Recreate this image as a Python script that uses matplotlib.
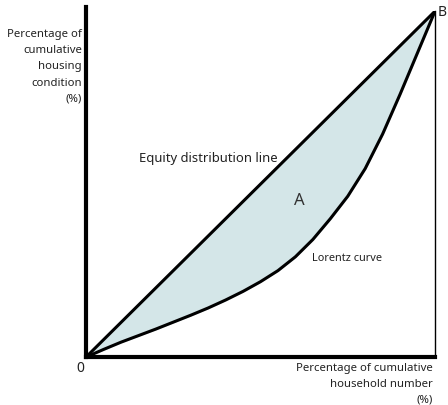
import matplotlib.pyplot as plt

# cumulative household share (%) vs cumulative housing share (%)
household_pct = [0, 5, 10, 15, 20, 25, 30, 35, 40, 45, 50,
                 55, 60, 65, 70, 75, 80, 85, 90, 95, 100]
lorenz_pct = [0, 2.2, 4.3, 6.2, 8.1, 10.1, 12.1, 14.2, 16.5, 19, 21.8,
              25, 29, 34, 40, 46.5, 54.5, 64.5, 76, 88, 100]
equity_pct = [0, 100]

plt.rcParams["font.family"] = ["Noto Sans", "DejaVu Sans"]

fig = plt.figure(figsize=(4.48, 4.06), dpi=100)
ax = fig.add_axes([0.192, 0.118, 0.779, 0.852])
ax.set_xlim(0, 100)
ax.set_ylim(0, 100)
ax.set_axis_off()

ax.fill_between(household_pct, lorenz_pct, household_pct,
                color="#d4e6e8", zorder=1)
ax.plot(equity_pct, equity_pct, color="black", lw=2.2, zorder=3,
        solid_capstyle="round")
ax.plot(household_pct, lorenz_pct, color="black", lw=2.2, zorder=3,
        solid_capstyle="round", solid_joinstyle="round")

# axes frame
ax.plot([0, 0], [0, 101.2], color="black", lw=3, clip_on=False, zorder=4)
ax.plot([0, 100], [0, 0], color="black", lw=3, clip_on=False, zorder=4)
ax.plot([100, 100], [0, 100], color="black", lw=1.0, clip_on=False, zorder=2)

ax.text(55, 57.8, "Equity distribution line", ha="right", va="center",
        fontsize=9.4, color="#222222")
ax.text(61, 45.4, "A", ha="center", va="center", fontsize=12,
        color="#333333", fontweight="light")
ax.text(64.8, 28.9, "Lorentz curve", ha="left", va="center",
        fontsize=7.9, color="#222222")
ax.text(-1.7, -0.9, "0", ha="center", va="top", fontsize=10, color="#222222")
ax.text(100.8, 100, "B", ha="left", va="center", fontsize=10,
        color="#222222")

fig.text(82 / 448, 1 - 29 / 406,
         "Percentage of\ncumulative\nhousing\ncondition\n(%)",
         ha="right", va="top", fontsize=8.2, linespacing=1.65,
         color="#222222")
fig.text(433 / 448, 1 - 363 / 406,
         "Percentage of cumulative\nhousehold number\n(%)",
         ha="right", va="top", fontsize=8.2, linespacing=1.6,
         color="#222222")

fig.savefig("out.png", dpi=100)
